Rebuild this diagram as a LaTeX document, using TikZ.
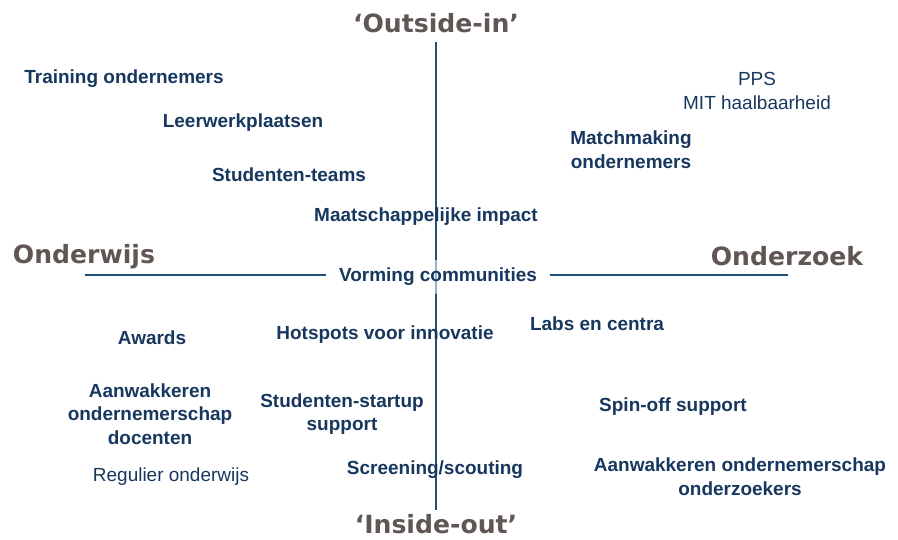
\documentclass[tikz,border=0pt]{standalone}
\usepackage{fontspec}
\setmainfont{Liberation Sans}
\newfontfamily\axisfont{DejaVu Sans}
\definecolor{itemblue}{HTML}{17375E}
\definecolor{axisgrey}{HTML}{605654}
\definecolor{lineblue}{HTML}{1F4E79}

\begin{document}
\begin{tikzpicture}[x=0.02cm,y=-0.02cm,
  axis/.style={lineblue,line width=0.8pt},
  pole/.style={text=axisgrey,inner sep=1pt,font=\axisfont\bfseries\fontsize{14.3}{17}\selectfont},
  item/.style={text=itemblue,align=center,inner sep=1pt,font=\bfseries\fontsize{10.8}{13.5}\selectfont},
  plain/.style={text=itemblue,align=center,inner sep=1pt,font=\fontsize{10.8}{13.5}\selectfont}]
  \useasboundingbox (0,0) rectangle (898,540);

  % axes
  \coordinate (vtop) at (436,42);
  \coordinate (vbot) at (436,510);
  \coordinate (hleft) at (85,275);
  \coordinate (hright) at (788,275);
  \draw[axis] (vtop) -- (vbot);
  \node[item,fill=white,fill opacity=0.55,text opacity=1,inner xsep=7pt,inner ysep=4.5pt] (vorming) at (438,277) {Vorming communities};
  \draw[axis] (hleft) -- (hleft -| vorming.west);
  \draw[axis] (hright -| vorming.east) -- (hright);

  % poles
  \node[pole] (outside) at (436,23) {‘Outside-in’};
  \node[pole] (inside) at (436,524) {‘Inside-out’};
  \node[pole] (onderwijs) at (84,257) {Onderwijs};
  \node[pole] (onderzoek) at (787,256) {Onderzoek};

  % upper half
  \node[item] (training) at (124,79) {Training ondernemers};
  \node[item] (leerwerk) at (243,123) {Leerwerkplaatsen};
  \node[item] (teams) at (289,175) {Studenten-teams};
  \node[item] (impact) at (426,217) {Maatschappelijke impact};
  \node[plain] (pps) at (757,91) {PPS\\MIT haalbaarheid};
  \node[item] (matchmaking) at (631,150) {Matchmaking\\ondernemers};

  % lower half
  \node[item] (awards) at (152,338) {Awards};
  \node[item] (hotspots) at (385,335) {Hotspots voor innovatie};
  \node[item] (labs) at (597,324) {Labs en centra};
  \node[item] (docenten) at (150,414) {Aanwakkeren\\ondernemerschap\\docenten};
  \node[item] (startup) at (342,414) {Studenten-startup\\support};
  \node[plain] (regulier) at (171,477) {Regulier onderwijs};
  \node[item] (screening) at (435,470) {Screening/scouting};
  \node[item] (spinoff) at (673,407) {Spin-off support};
  \node[item] (onderzoekers) at (740,477) {Aanwakkeren ondernemerschap\\onderzoekers};
\end{tikzpicture}
\end{document}
